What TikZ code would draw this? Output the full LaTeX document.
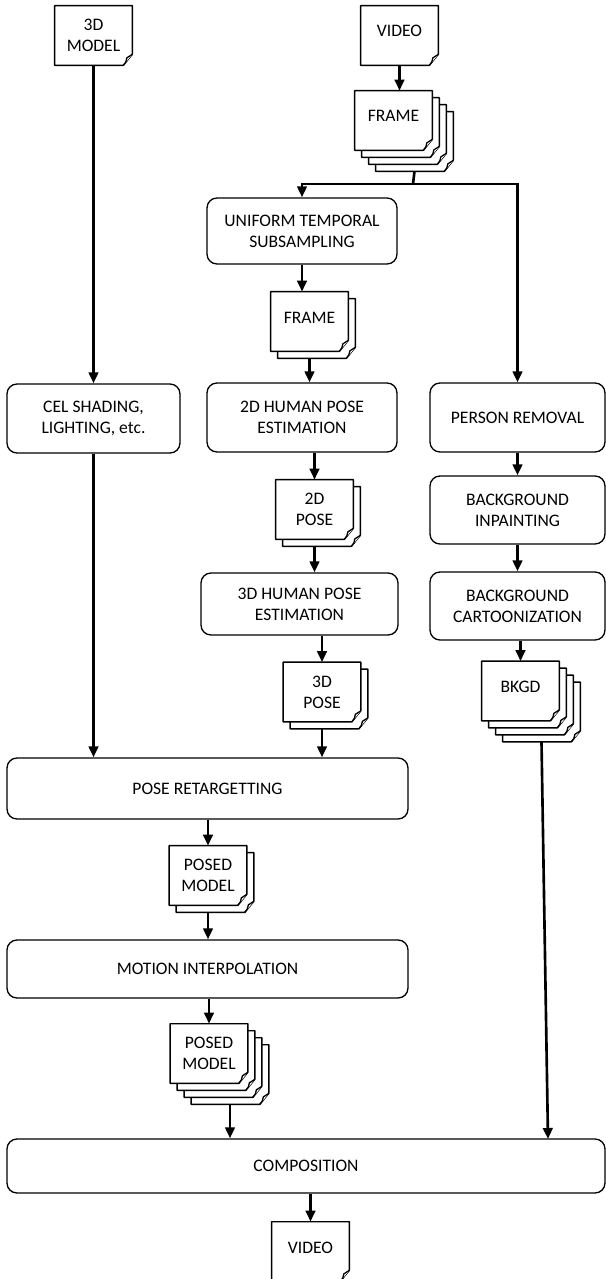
\documentclass[tikz,border=0pt]{standalone}
\usepackage{fontspec}
\setmainfont{Carlito}
\usetikzlibrary{arrows.meta,positioning}

\pgfdeclarelayer{background}
\pgfsetlayers{background,main}

% outline of a page with a folded corner, drawn behind the text
\newcommand{\sheetpath}[1]{%
  \begin{pgfonlayer}{background}
    \draw[sheet] (#1.south west) -- (#1.north west) -- (#1.north east)
      -- ([yshift=2.2mm]#1.south east) -- ([xshift=-1.8mm]#1.south east) -- cycle;
    \draw[sheet] ([xshift=-1.8mm]#1.south east) to[bend right=20]
      ([shift={(-1.1mm,1.5mm)}]#1.south east) -- ([yshift=2.2mm]#1.south east);
  \end{pgfonlayer}}

% pages lying behind a front page: name, position, count
\newcommand{\backsheets}[3]{%
  \foreach \k in {#3,...,1} {%
    \node[page] (#1-\k) at ([shift={(7*\k,7*\k)}]#2) {};
    \sheetpath{#1-\k}
  }}

\begin{document}
\begin{tikzpicture}[
    x = 0.2mm, y = -0.2mm, % one unit per pixel, downwards
    font = \fontsize{10}{12}\selectfont,
    flow/.style = {line width=1.5pt, -{Triangle[length=2.2mm,width=1.9mm]}},
    wire/.style = {line width=1.5pt}
    ]

    \tikzset{
    process/.style = {draw, line width=0.75pt, rounded corners=2mm,
      align=center, inner sep=0},
    page/.style = {minimum width=15.4mm, minimum height=11.8mm,
      inner sep=0, align=center},
    oneline/.style = {text height=2.2mm, text depth=1.6mm},
    sheet/.style = {draw, fill=white, line width=0.75pt, line join=round}
    }

    \useasboundingbox (0,0) rectangle (606,1279);

    % inputs
    \node[page] (model3d) at (93.5,35.5) {3D\\MODEL}; \sheetpath{model3d}
    \node[page,oneline] (video) at (399.5,35.5) {VIDEO}; \sheetpath{video}

    \coordinate (framepos) at (393.5,120.5);
    \backsheets{frame}{framepos}{3}
    \node[page,oneline] (frame) at (framepos) {FRAME}; \sheetpath{frame}

    % middle column
    \node[process, minimum width=38mm, minimum height=13.2mm] (uts) at (302,231)
      {UNIFORM TEMPORAL\\SUBSAMPLING};

    \coordinate (frame2pos) at (309.5,321.5);
    \backsheets{frame2}{frame2pos}{1}
    \node[page,oneline] (frame2) at (frame2pos) {FRAME}; \sheetpath{frame2}

    \node[process, minimum width=38mm, minimum height=13.8mm] (hpe2) at (302,417.5)
      {2D HUMAN POSE\\ESTIMATION};

    \coordinate (pose2pos) at (314.5,509.5);
    \backsheets{pose2}{pose2pos}{1}
    \node[page] (pose2) at (pose2pos) {2D\\POSE}; \sheetpath{pose2}

    \node[process, minimum width=39.4mm, minimum height=12.4mm] (hpe3) at (299.5,604)
      {3D HUMAN POSE\\ESTIMATION};

    \coordinate (pose3pos) at (322,692);
    \backsheets{pose3}{pose3pos}{1}
    \node[page] (pose3) at (pose3pos) {3D\\POSE}; \sheetpath{pose3}

    % right column
    \node[process, minimum width=35mm, minimum height=13.8mm] (person) at (517.5,417.5)
      {PERSON REMOVAL};
    \node[process, minimum width=35mm, minimum height=13.6mm] (inpaint) at (517.5,510)
      {BACKGROUND\\INPAINTING};
    \node[process, minimum width=35mm, minimum height=13.6mm] (cartoon) at (517.5,606)
      {BACKGROUND\\CARTOONIZATION};

    \coordinate (bkgdpos) at (520.5,691);
    \backsheets{bkgd}{bkgdpos}{3}
    \node[page,oneline] (bkgd) at (bkgdpos) {BKGD}; \sheetpath{bkgd}

    % left column and bottom
    \node[process, minimum width=34.6mm, minimum height=13.8mm] (cel) at (93.5,418.5)
      {CEL SHADING,\\LIGHTING, etc.};

    \node[process, minimum width=80.2mm, minimum height=12.2mm] (retarget) at (207.5,788.5)
      {POSE RETARGETTING};

    \coordinate (posed1pos) at (208,875.5);
    \backsheets{posed1}{posed1pos}{1}
    \node[page] (posed1) at (posed1pos) {POSED\\MODEL}; \sheetpath{posed1}

    \node[process, minimum width=80.2mm, minimum height=11.6mm] (motion) at (207.5,969)
      {MOTION INTERPOLATION};

    \coordinate (posed2pos) at (209,1053.5);
    \backsheets{posed2}{posed2pos}{3}
    \node[page] (posed2) at (posed2pos) {POSED\\MODEL}; \sheetpath{posed2}

    \node[process, minimum width=119.6mm, minimum height=10.8mm] (compose) at (306,1166)
      {COMPOSITION};

    \node[page,oneline] (video2) at (310.5,1251.5) {VIDEO}; \sheetpath{video2}

    % connectors
    \draw[flow] (video.south) -- (video.south |- frame.north);
    \coordinate (split) at (413,184);
    \draw[wire] (frame-3.south) -- (split);
    \draw[flow] (split) -| (uts.north);
    \draw[flow] (split) -| (person.north);

    \draw[flow] (uts.south) -- (uts.south |- frame2.north);
    \draw[flow] (frame2.south |- frame2-1.south) -- (frame2 |- hpe2.north);
    \draw[flow] (pose2.north |- hpe2.south) -- (pose2.north);
    \draw[flow] (pose2.south |- pose2-1.south) -- (pose2 |- hpe3.north);
    \draw[flow] (pose3.north |- hpe3.south) -- (pose3.north);
    \draw[flow] (pose3.south |- pose3-1.south) -- (pose3 |- retarget.north);

    \draw[flow] (person) -- (inpaint);
    \draw[flow] (inpaint) -- (cartoon);
    \draw[flow] (bkgd.north |- cartoon.south) -- (bkgd.north);
    \coordinate (bkgdin) at (548,1139);
    \draw[flow] (bkgd-3.south) -- (bkgdin);

    \draw[flow] (model3d) -- (cel);
    \draw[flow] (cel.south) -- (cel.south |- retarget.north);
    \draw[flow] (retarget.south -| posed1.north) -- (posed1.north);
    \draw[flow] (posed1.south |- posed1-1.south) -- (posed1 |- motion.north);
    \draw[flow] (motion.south -| posed2.north) -- (posed2.north);
    \draw[flow] (posed2-3.south) -- (posed2-3.south |- compose.north);
    \draw[flow] (compose.south -| video2.north) -- (video2.north);
\end{tikzpicture}
\end{document}
